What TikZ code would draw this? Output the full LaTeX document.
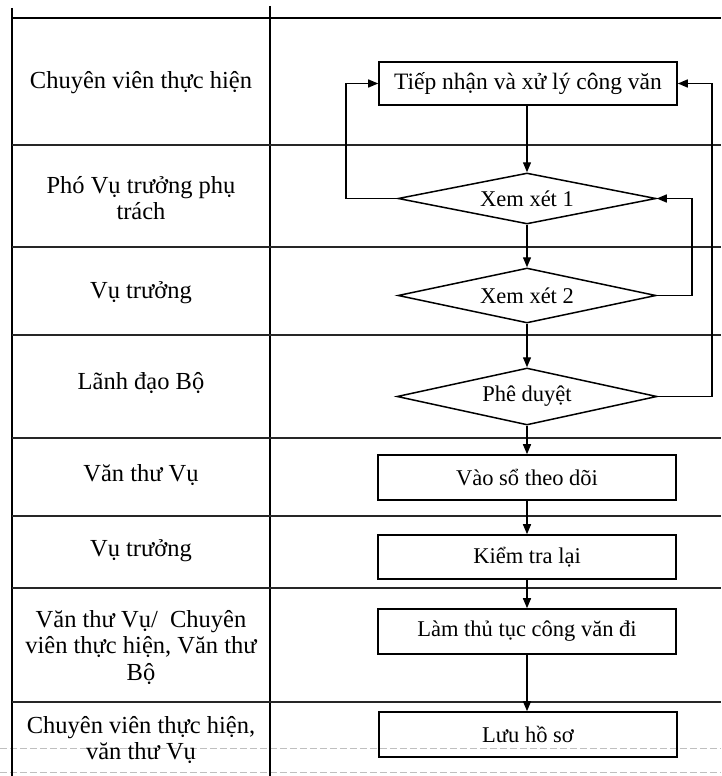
\documentclass[tikz,border=0pt]{standalone}
\usepackage{fontspec}
\setmainfont{Liberation Serif}
\usetikzlibrary{arrows.meta,shapes.geometric}
\begin{document}
\begin{tikzpicture}[x=1pt,y=-1pt,
  rowline/.style={line width=1.5pt, draw=black!85},
  faint/.style={line width=0.9pt, draw=black!25, dash pattern=on 7pt off 3pt},
  lane/.style={align=center, font=\fontsize{24.5}{26.5}\selectfont, inner sep=0pt, yshift=-1pt},
  stepbox/.style={draw, line width=1.6pt, minimum width=298pt, minimum height=44pt,
    inner sep=0pt, font=\fontsize{22.5}{26}\selectfont},
  decision/.style={draw, diamond, aspect=5, line width=1.5pt, minimum width=258pt,
    inner sep=0pt, font=\fontsize{22.5}{26}\selectfont},
  flow/.style={line width=1.4pt, -{Triangle[length=10pt,width=8pt]}}
]
\useasboundingbox (0,0) rectangle (721,776);

% faint lower rules of the table
\draw[faint] (0,748) -- (721,748);
\draw[faint] (0,772) -- (721,772);

% table frame and row separators
\draw[line width=2.6pt] (12,8) -- (12,776);
\draw[line width=2pt] (270,6) -- (270,776);
\draw[line width=2.2pt] (12,18) -- (721,18);
\foreach \yy in {145,247,335,438,516,588,702}
  \draw[rowline] (12,\yy) -- (721,\yy);

% lane labels
\node[lane] (l1) at (141,82)  {Chuyên viên thực hiện};
\node[lane] (l2) at (141,197) {Phó Vụ trưởng phụ\\trách};
\node[lane] (l3) at (141,292) {Vụ trưởng};
\node[lane] (l4) at (141,382) {Lãnh đạo Bộ};
\node[lane] (l5) at (141,474) {Văn thư Vụ};
\node[lane] (l6) at (141,550) {Vụ trưởng};
\node[lane] (l7) at (141,646) {Văn thư Vụ/\ \ Chuyên\\viên thực hiện, Văn thư\\Bộ};
\node[lane] (l8) at (141,739) {Chuyên viên thực hiện,\\văn thư Vụ};

% process steps
\node[stepbox, minimum height=43pt, font=\fontsize{23.5}{26}\selectfont] (a) at (528,83.5) {Tiếp nhận và xử lý công văn};
\node[decision, minimum height=51pt] (d1) at (527,198.5) {Xem xét 1};
\node[decision, minimum height=55pt] (d2) at (527,295.5) {Xem xét 2};
\node[decision, minimum height=57pt, minimum width=260pt] (d3) at (527,396.5) {Phê duyệt};
\node[stepbox, minimum height=45pt] (b1) at (527,477.5) {Vào sổ theo dõi};
\node[stepbox] (b2) at (527,557) {Kiểm tra lại};
\node[stepbox, minimum height=45pt] (b3) at (527,631.5) {Làm thủ tục công văn đi};
\node[stepbox, minimum height=45pt] (b4) at (528,734.5) {Lưu hồ sơ};

% main flow
\draw[flow] (a.south -| d1.north) -- (d1.north);
\draw[flow] (d1) -- (d2);
\draw[flow] (d2) -- (d3);
\draw[flow] (d3) -- (b1);
\draw[flow] (b1) -- (b2);
\draw[flow] (b2) -- (b3);
\draw[flow] (b3.south) -- (b3.south |- b4.north);

% return loops
\coordinate (back1) at (346,140);
\coordinate (back2) at (692,250);
\coordinate (back3) at (712,250);
\draw[flow] (d1.west) -| (back1) |- (a.west);
\draw[flow] (d2.east) -| (back2) |- (d1.east);
\draw[flow] (d3.east) -| (back3) |- (a.east);
\end{tikzpicture}
\end{document}
